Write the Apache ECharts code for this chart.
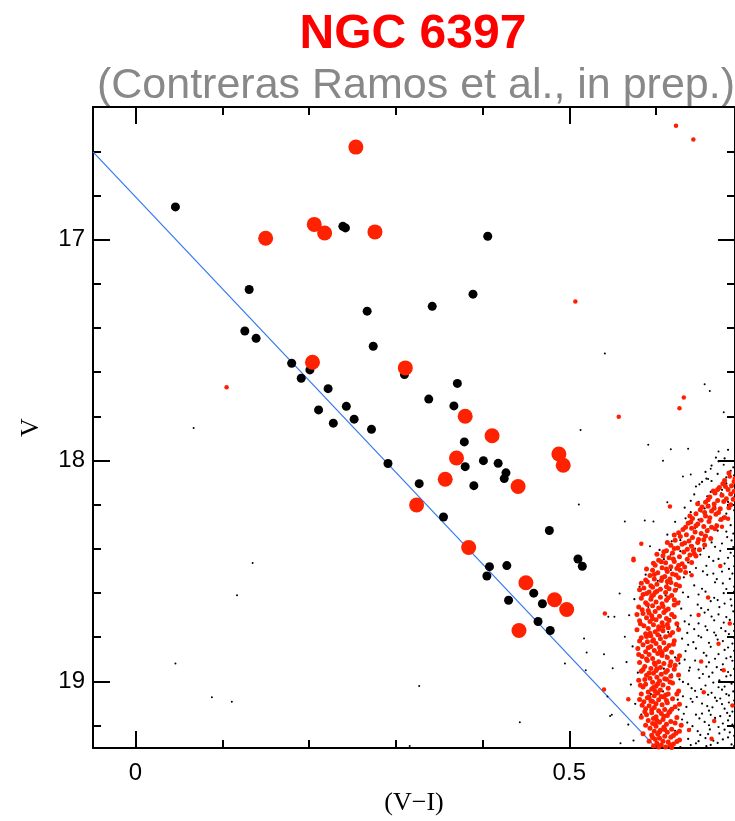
<!DOCTYPE html>
<html>
<head>
<meta charset="utf-8">
<script src="https://cdn.jsdelivr.net/npm/echarts@6/dist/echarts.min.js"></script>
<style>
html,body{margin:0;padding:0;background:#fff;}
#chart{width:735px;height:821px;}
</style>
</head>
<body>
<div id="chart"></div>
<script>
// ---- Text ----
const titleText = 'NGC 6397';
const subtitleText = '(Contreras Ramos et al., in prep.)';
const xName = '(V\u2212I)';
const yName = 'V';

// ---- Axis ranges and ticks ----
const xRange = [-0.049, 0.691];
const yRange = [16.3995, 19.3025];
const xMajorTicks = [0, 0.5];
const xMinorTicks = [0.1, 0.2, 0.3, 0.4, 0.6];
const yMajorTicks = [17, 18, 19];
const yMinorTicks = [16.6, 16.8, 17.2, 17.4, 17.6, 17.8, 18.2, 18.4, 18.6, 18.8, 19.2];

// ---- Reference line (blue) ----
const lineEnds = [[-0.049, 16.603], [0.600, 19.300]];

// ---- Large black points [V-I, V] ----
const bigBlack = [
  [0.046,16.852],[0.239,16.940],[0.242,16.947],[0.406,16.985],[0.131,17.226],[0.389,17.247],
  [0.342,17.302],[0.267,17.324],[0.126,17.414],[0.139,17.447],[0.274,17.483],[0.180,17.560],
  [0.201,17.590],[0.310,17.611],[0.191,17.628],[0.371,17.651],[0.222,17.675],[0.338,17.722],
  [0.367,17.753],[0.211,17.771],[0.243,17.755],[0.252,17.813],[0.228,17.831],[0.272,17.859],
  [0.379,17.916],[0.291,18.014],[0.401,18.001],[0.380,18.028],[0.418,18.013],[0.427,18.056],
  [0.425,18.082],[0.327,18.105],[0.390,18.114],[0.355,18.256],[0.477,18.317],[0.510,18.446],
  [0.515,18.479],[0.408,18.481],[0.428,18.476],[0.405,18.523],[0.459,18.601],[0.430,18.633],
  [0.469,18.649],[0.464,18.729],[0.478,18.770]
];

// ---- Large red points [V-I, V] ----
const bigRed = [
  [0.254,16.581],[0.150,16.994],[0.206,16.931],[0.218,16.970],[0.276,16.965],[0.204,17.555],
  [0.311,17.581],[0.380,17.800],[0.411,17.888],[0.370,17.989],[0.488,17.971],[0.493,18.022],
  [0.357,18.085],[0.441,18.118],[0.324,18.202],[0.384,18.394],[0.450,18.554],[0.483,18.631],
  [0.497,18.675],[0.442,18.770]
];

// ---- Small red points: isolated stars ----
const smallRedField = [
  [0.623,16.484],[0.643,16.547],[0.507,17.280],[0.632,17.715],[0.627,17.764],[0.557,17.802],[0.105,17.668],
  [0.541,18.693],[0.540,19.037],[0.574,18.445],[0.568,19.081],[0.583,18.377],[0.574,18.452],[0.616,18.209],
  [0.685,18.073],[0.683,18.264],[0.674,18.478],[0.685,18.738],
  [0.660,18.62],[0.672,18.83],[0.655,19.05],[0.667,19.18],[0.678,18.95],[0.649,18.70],[0.664,19.26],
  [0.641,18.52],[0.652,18.91],[0.688,19.11],[0.676,18.30],[0.638,19.22]
];

// ---- Small red points: main-sequence band ----
const smallRedBand = [
  [0.684,18.057],[0.691,18.083],[0.679,18.091],[0.687,18.114],[0.673,18.122],[0.683,18.131],[0.668,18.147],[0.690,18.139],
  [0.676,18.158],[0.662,18.166],[0.681,18.173],[0.671,18.181],[0.657,18.189],[0.667,18.197],[0.686,18.201],[0.660,18.207],
  [0.674,18.219],[0.651,18.223],[0.664,18.229],[0.646,18.241],[0.669,18.244],[0.657,18.252],[0.679,18.258],[0.642,18.263],
  [0.652,18.271],[0.661,18.276],[0.637,18.284],[0.648,18.288],[0.670,18.296],[0.655,18.299],[0.641,18.307],[0.631,18.313],
  [0.659,18.318],[0.645,18.324],[0.635,18.336],[0.652,18.331],[0.628,18.344],[0.642,18.349],[0.663,18.353],[0.622,18.361],
  [0.638,18.365],[0.648,18.371],[0.630,18.379],[0.617,18.384],[0.641,18.388],[0.625,18.396],[0.636,18.402],[0.612,18.409],
  [0.632,18.414],[0.619,18.419],[0.644,18.423],[0.608,18.431],[0.627,18.436],[0.615,18.441],[0.636,18.447],[0.603,18.452],
  [0.621,18.458],[0.611,18.463],[0.630,18.468],[0.599,18.474],[0.617,18.481],[0.607,18.486],[0.624,18.489],[0.596,18.497],
  [0.613,18.503],[0.602,18.509],[0.619,18.514],[0.593,18.521],[0.610,18.526],[0.626,18.531],[0.598,18.537],[0.606,18.544],
  [0.590,18.549],[0.617,18.553],[0.601,18.561],[0.594,18.567],[0.612,18.572],[0.586,18.578],[0.605,18.583],[0.622,18.588],
  [0.677,18.105],[0.666,18.138],[0.653,18.211],[0.640,18.279],[0.626,18.327],[0.613,18.372],[0.650,18.404],[0.601,18.425],
  [0.589,18.491],[0.628,18.497],[0.583,18.556],[0.616,18.537],[0.689,18.176],[0.672,18.236],[0.664,18.303],[0.655,18.359],
  [0.646,18.433],[0.633,18.482],[0.623,18.562],[0.592,18.596],
  [0.690,18.095],[0.680,18.118],[0.671,18.131],[0.686,18.152],[0.660,18.178],[0.678,18.186],[0.684,18.214],[0.648,18.196],
  [0.667,18.216],[0.656,18.236],[0.675,18.267],[0.639,18.251],[0.662,18.259],[0.646,18.296],[0.668,18.309],[0.634,18.302],
  [0.657,18.342],[0.621,18.338],[0.649,18.358],[0.633,18.374],[0.656,18.383],[0.621,18.399],[0.643,18.408],[0.609,18.413],
  [0.639,18.428],[0.620,18.446],[0.606,18.459],[0.641,18.462],[0.597,18.466],[0.626,18.476],[0.612,18.492],[0.634,18.507],
  [0.598,18.516],[0.623,18.519],[0.607,18.531],[0.588,18.541],[0.613,18.548],[0.627,18.569],[0.596,18.574],[0.581,18.585],
  [0.615,18.581],[0.599,18.598],
  [0.601,18.592],[0.611,18.598],[0.589,18.603],[0.597,18.609],[0.618,18.612],[0.605,18.619],[0.583,18.624],[0.594,18.628],
  [0.612,18.633],[0.600,18.641],[0.588,18.644],[0.607,18.649],[0.621,18.655],[0.596,18.658],[0.580,18.664],[0.603,18.668],
  [0.614,18.673],[0.591,18.679],[0.599,18.684],[0.609,18.688],[0.585,18.693],[0.618,18.697],[0.595,18.703],[0.604,18.706],
  [0.589,18.712],[0.612,18.716],[0.600,18.721],[0.581,18.726],[0.593,18.729],[0.607,18.735],[0.624,18.739],[0.597,18.744],
  [0.586,18.748],[0.603,18.753],[0.614,18.758],[0.591,18.761],[0.578,18.767],[0.608,18.771],[0.599,18.776],[0.619,18.779],
  [0.588,18.785],[0.602,18.789],[0.594,18.794],[0.611,18.798],[0.583,18.803],[0.605,18.807],[0.597,18.812],[0.621,18.816],
  [0.590,18.821],[0.609,18.825],[0.600,18.829],[0.585,18.834],[0.615,18.838],[0.594,18.843],[0.604,18.847],[0.579,18.852],
  [0.611,18.856],[0.598,18.861],[0.588,18.866],[0.618,18.869],[0.602,18.874],[0.592,18.879],[0.607,18.883],[0.584,18.888],
  [0.613,18.892],[0.596,18.897],[0.625,18.901],[0.590,18.906],[0.603,18.911],[0.581,18.915],[0.609,18.919],[0.599,18.924],
  [0.616,18.928],[0.587,18.933],[0.605,18.937],[0.594,18.942],[0.621,18.946],[0.600,18.951],[0.583,18.955],[0.611,18.959],
  [0.597,18.964],[0.606,18.968],[0.589,18.973],[0.617,18.977],[0.601,18.982],[0.593,18.986],[0.612,18.991],[0.580,18.995],
  [0.604,18.999],[0.596,19.004],[0.619,19.008],[0.588,19.013],[0.608,19.017],[0.600,19.022],[0.585,19.026],[0.614,19.031],
  [0.595,19.035],[0.605,19.039],[0.626,19.044],[0.591,19.048],[0.602,19.053],[0.583,19.057],[0.611,19.062],[0.598,19.066],
  [0.609,19.071],[0.590,19.075],[0.619,19.079],[0.603,19.084],[0.594,19.088],[0.586,19.093],[0.613,19.097],[0.600,19.102],
  [0.607,19.106],[0.592,19.111],[0.622,19.115],[0.598,19.119],[0.588,19.124],[0.610,19.128],[0.603,19.133],[0.616,19.137],
  [0.595,19.142],[0.606,19.146],[0.589,19.151],[0.613,19.155],[0.600,19.160],[0.624,19.164],[0.597,19.168],[0.608,19.173],
  [0.591,19.177],[0.617,19.182],[0.604,19.186],[0.596,19.191],[0.612,19.195],[0.629,19.199],[0.600,19.204],[0.609,19.208],
  [0.593,19.213],[0.618,19.217],[0.605,19.222],[0.598,19.226],[0.613,19.231],[0.623,19.235],[0.602,19.240],[0.595,19.244],
  [0.610,19.249],[0.617,19.253],[0.604,19.258],[0.599,19.262],[0.627,19.266],[0.608,19.271],[0.614,19.275],[0.601,19.280],
  [0.620,19.284],[0.606,19.289],[0.597,19.293],[0.611,19.297],[0.618,19.300],
  [0.595,18.615],[0.608,18.661],[0.592,18.691],[0.615,18.725],[0.603,18.764],[0.596,18.818],[0.612,18.851],[0.589,18.899],
  [0.601,18.943],[0.610,18.988],[0.597,19.028],[0.606,19.069],[0.584,19.108],[0.615,19.141],[0.599,19.193],[0.604,19.229],
  [0.592,19.271],[0.621,18.631],[0.584,18.676],[0.613,18.743],[0.589,18.797],[0.605,18.862],[0.617,18.912],[0.592,18.962],
  [0.602,19.011],[0.614,19.058],[0.596,19.091],[0.609,19.158],[0.587,19.138],[0.620,19.246],
  [0.585,18.607],[0.614,18.622],[0.625,18.646],[0.590,18.652],[0.611,18.679],[0.578,18.698],[0.621,18.708],[0.596,18.717],
  [0.582,18.739],[0.608,18.752],[0.626,18.765],[0.593,18.782],[0.616,18.791],[0.581,18.818],[0.620,18.832],[0.591,18.848],
  [0.607,18.871],[0.627,18.884],[0.580,18.879],[0.598,18.917],[0.622,18.927],[0.585,18.947],[0.613,18.951],[0.626,18.972],
  [0.587,18.992],[0.616,19.003],[0.582,19.018],[0.599,19.045],[0.624,19.058],[0.592,19.071],[0.612,19.087],[0.581,19.082],
  [0.627,19.104],[0.595,19.129],[0.618,19.127],[0.583,19.163],[0.601,19.178],[0.622,19.189],[0.588,19.199],[0.610,19.218],
  [0.627,19.226],[0.596,19.255],[0.585,19.238],[0.616,19.289],[0.603,19.298],[0.624,19.273]
];

// ---- Small black points: isolated stars ----
const smallBlackField = [
  [0.067,17.853],[0.135,18.464],[0.117,18.610],[0.046,18.919],[0.088,19.072],[0.111,19.093],[0.327,19.021],
  [0.443,19.186],[0.316,19.293],[0.513,17.862],[0.511,18.200],[0.517,18.806],[0.520,18.870],[0.495,18.919],
  [0.519,18.950],[0.540,18.878],[0.545,18.708],[0.544,19.069],[0.547,19.157],[0.541,17.516],
  [0.656,17.655],[0.662,17.686],[0.678,17.782],[0.591,17.929],[0.617,17.949],[0.637,17.947],[0.608,18.001],
  [0.672,17.960],[0.678,18.020],[0.663,18.038],[0.640,18.064],[0.631,18.073],[0.660,18.084],
  [0.564,18.276],[0.587,18.272],[0.597,18.276],[0.593,18.389],[0.613,18.189],
  [0.558,18.603],[0.552,18.708],[0.564,18.798],[0.550,18.941],[0.549,19.152],[0.559,19.280]
];

// ---- Small black points: main-sequence cloud ----
const smallBlackBand = [
  [0.672,18.004],[0.689,18.031],[0.657,18.052],[0.681,18.077],[0.664,18.093],[0.646,18.118],[0.687,18.121],[0.675,18.149],
  [0.659,18.162],[0.683,18.188],[0.640,18.183],[0.668,18.209],[0.690,18.226],[0.652,18.231],[0.677,18.257],[0.634,18.262],
  [0.661,18.279],[0.686,18.293],[0.645,18.305],[0.671,18.318],[0.626,18.327],[0.655,18.341],[0.682,18.347],[0.618,18.366],
  [0.664,18.371],[0.639,18.385],[0.689,18.392],[0.674,18.409],[0.628,18.411],[0.651,18.426],[0.609,18.447],[0.683,18.441],
  [0.666,18.455],[0.637,18.462],[0.646,18.487],[0.690,18.479],[0.676,18.503],[0.617,18.496],[0.659,18.518],[0.632,18.529],
  [0.685,18.536],[0.602,18.545],[0.668,18.552],[0.644,18.566],[0.690,18.571],[0.624,18.583],[0.657,18.594],[0.678,18.601],
  [0.611,18.611],[0.637,18.618],[0.686,18.629],[0.663,18.637],[0.648,18.653],[0.597,18.659],[0.673,18.664],[0.629,18.671],
  [0.689,18.683],[0.656,18.689],[0.640,18.702],[0.681,18.709],[0.616,18.718],[0.667,18.724],[0.649,18.738],[0.690,18.741],
  [0.625,18.752],[0.675,18.759],[0.659,18.768],[0.636,18.781],[0.684,18.786],[0.605,18.793],[0.652,18.801],[0.671,18.811],
  [0.643,18.823],[0.688,18.829],[0.621,18.836],[0.663,18.844],[0.679,18.858],[0.634,18.863],[0.655,18.871],[0.612,18.884],
  [0.686,18.889],[0.668,18.898],[0.645,18.906],[0.627,18.919],[0.677,18.923],[0.658,18.934],[0.690,18.944],[0.638,18.952],
  [0.665,18.961],[0.618,18.969],[0.681,18.978],[0.650,18.985],[0.673,18.996],[0.631,19.003],[0.687,19.011],[0.657,19.019],
  [0.641,19.031],[0.676,19.038],[0.608,19.046],[0.664,19.052],[0.684,19.064],[0.647,19.071],[0.625,19.083],[0.670,19.089],
  [0.653,19.101],[0.689,19.108],[0.635,19.116],[0.679,19.124],[0.661,19.133],[0.616,19.139],[0.646,19.151],[0.685,19.157],
  [0.668,19.166],[0.630,19.173],[0.656,19.184],[0.677,19.191],[0.642,19.203],[0.690,19.209],[0.662,19.218],[0.622,19.224],
  [0.673,19.236],[0.651,19.243],[0.683,19.254],[0.637,19.261],[0.666,19.269],[0.646,19.281],[0.687,19.286],[0.658,19.294],
  [0.628,19.298],
  [0.683,17.952],[0.669,17.987],[0.690,18.068],[0.653,18.097],[0.676,18.133],[0.661,18.201],[0.681,18.241],[0.649,18.268],
  [0.669,18.291],[0.689,18.331],[0.641,18.352],[0.676,18.376],[0.655,18.398],[0.686,18.418],[0.661,18.437],[0.679,18.467],
  [0.626,18.472],[0.654,18.502],[0.688,18.512],[0.670,18.537],[0.613,18.558],[0.681,18.582],[0.649,18.607],[0.667,18.622],
  [0.627,18.639],[0.679,18.648],[0.691,18.667],[0.660,18.676],[0.619,18.693],[0.672,18.697],[0.633,18.729],[0.685,18.722],
  [0.657,18.751],[0.680,18.773],[0.644,18.764],[0.669,18.792],[0.690,18.803],[0.630,18.807],[0.661,18.826],[0.683,18.847],
  [0.646,18.851],[0.672,18.877],[0.622,18.892],[0.688,18.907],[0.661,18.914],[0.639,18.938],[0.675,18.948],[0.654,18.967],
  [0.686,18.973],[0.627,18.991],[0.666,19.006],[0.679,19.024],[0.645,19.043],[0.689,19.046],[0.660,19.061],[0.631,19.068],
  [0.674,19.078],[0.684,19.096],[0.642,19.093],[0.665,19.118],[0.626,19.128],[0.688,19.137],[0.653,19.146],[0.674,19.158],
  [0.636,19.187],[0.683,19.177],[0.661,19.199],[0.648,19.226],[0.679,19.219],[0.690,19.247],[0.657,19.257],[0.671,19.279],
  [0.640,19.289],
  [0.575,18.628],[0.569,18.701],[0.573,18.842],[0.566,18.913],[0.571,19.015],[0.576,19.102],[0.568,19.196],[0.574,19.268],
  [0.581,18.572],[0.588,18.517],[0.596,18.463],[0.604,18.405],[0.613,18.336],[0.622,18.278],[0.633,18.214],[0.644,18.154],
  [0.658,18.082],[0.586,18.752],[0.579,18.961],[0.583,19.151],[0.591,18.663],[0.598,18.818],[0.594,19.058],[0.609,18.943],
  [0.602,19.233],[0.614,18.777],[0.606,18.581],[0.617,18.426],[0.628,18.361],[0.638,18.247],[0.649,18.187],
  [0.679,17.991],[0.664,18.023],[0.686,18.047],[0.671,18.061],[0.650,18.108],[0.681,18.104],[0.663,18.142],[0.690,18.167],
  [0.656,18.217],[0.684,18.208],[0.640,18.234],[0.673,18.271],[0.660,18.312],[0.681,18.322],[0.635,18.341],[0.687,18.362],
  [0.668,18.391],[0.645,18.399],[0.690,18.433],[0.672,18.446],[0.658,18.477],[0.684,18.491],[0.639,18.505],[0.666,18.512],
  [0.677,18.557],[0.653,18.581],[0.690,18.594],[0.631,18.598],[0.671,18.632],[0.687,18.657],[0.652,18.669],[0.664,18.707],
  [0.678,18.734],[0.638,18.742],[0.690,18.772],[0.667,18.779],[0.649,18.794],[0.677,18.818],[0.637,18.835],[0.690,18.862],
  [0.658,18.884],[0.681,18.896],[0.633,18.902],[0.670,18.936],[0.649,18.947],[0.683,18.958],[0.661,18.979],[0.690,19.003],
  [0.637,19.013],[0.672,19.027],[0.652,19.036],[0.681,19.058],[0.668,19.074],[0.640,19.079],[0.690,19.087],[0.659,19.112],
  [0.676,19.103],[0.632,19.147],[0.682,19.143],[0.663,19.152],[0.688,19.196],[0.650,19.168],[0.672,19.207],[0.639,19.216],
  [0.685,19.231],[0.660,19.239],[0.677,19.263],[0.649,19.271],[0.690,19.294],[0.663,19.288]
];

// ---- Build chart ----
const chart = echarts.init(document.getElementById('chart'), null, {renderer: 'canvas'});
const AX = '#000';
const tickStyle = {color: AX, width: 2};

function xAx(pos, ticks, len, withLine, withLabel) {
  return {
    type: 'value', position: pos, min: xRange[0], max: xRange[1],
    axisLine: {show: withLine, onZero: false, lineStyle: {color: AX, width: 2}},
    axisTick: {show: true, inside: true, length: len, lineStyle: tickStyle, customValues: ticks},
    axisLabel: withLabel ? {show: true, customValues: ticks, margin: 13, fontSize: 24,
      fontFamily: 'Liberation Sans', color: '#000', formatter: v => String(v)} : {show: false},
    splitLine: {show: false},
    name: withLabel ? xName : '', nameLocation: 'middle', nameGap: 40,
    nameTextStyle: {fontFamily: 'Liberation Serif', fontSize: 26, color: '#000'}
  };
}
function yAx(pos, ticks, len, withLine, withLabel) {
  return {
    type: 'value', position: pos, inverse: true, min: yRange[0], max: yRange[1],
    axisLine: {show: withLine, onZero: false, lineStyle: {color: AX, width: 2}},
    axisTick: {show: true, inside: true, length: len, lineStyle: tickStyle, customValues: ticks},
    axisLabel: withLabel ? {show: true, customValues: ticks, margin: 8, fontSize: 24,
      fontFamily: 'Liberation Sans', color: '#000', formatter: v => String(v)} : {show: false},
    splitLine: {show: false},
    name: withLabel ? yName : '', nameLocation: 'middle', nameGap: 49, nameRotate: 90,
    nameTextStyle: {fontFamily: 'Liberation Serif', fontSize: 26, color: '#000'}
  };
}
function dots(data, size, color, z) {
  return {type: 'scatter', data: data, symbolSize: size, silent: true, z: z,
    itemStyle: {color: color, opacity: 1}, emphasis: {disabled: true}};
}

const option = {
  animation: false,
  backgroundColor: '#fff',
  grid: {left: 93, top: 107, right: -2, bottom: 71, containLabel: false},
  graphic: [
    {type: 'text', x: 413, y: 35, style: {text: titleText, fill: '#ff0000',
      font: 'bold 48px "Liberation Sans", Arial, sans-serif', textAlign: 'center', textVerticalAlign: 'middle'}},
    {type: 'text', x: 416, y: 86, style: {text: subtitleText, fill: '#888888',
      font: '43px "Liberation Sans", Arial, sans-serif', textAlign: 'center', textVerticalAlign: 'middle'}}
  ],
  xAxis: [
    xAx('bottom', xMajorTicks, 17, true, true),
    xAx('bottom', xMinorTicks, 8, false, false),
    xAx('top', xMajorTicks, 17, true, false),
    xAx('top', xMinorTicks, 8, false, false)
  ],
  yAxis: [
    yAx('left', yMajorTicks, 17, true, true),
    yAx('left', yMinorTicks, 8, false, false),
    yAx('right', yMajorTicks, 17, true, false),
    yAx('right', yMinorTicks, 8, false, false)
  ],
  series: [
    {type: 'line', data: lineEnds, showSymbol: false, symbol: 'none', silent: true, z: 1,
      lineStyle: {color: '#3377f0', width: 1.2}},
    dots(smallBlackField, 2, '#000', 2),
    dots(smallBlackBand, 2.2, '#000', 2),
    dots(smallRedField, 4.5, '#ff1f00', 3),
    dots(smallRedBand, 5, '#ff1f00', 3),
    dots(bigBlack, 9, '#000', 4),
    dots(bigRed, 15, '#ff2200', 5)
  ]
};
chart.setOption(option);
</script>
</body>
</html>
